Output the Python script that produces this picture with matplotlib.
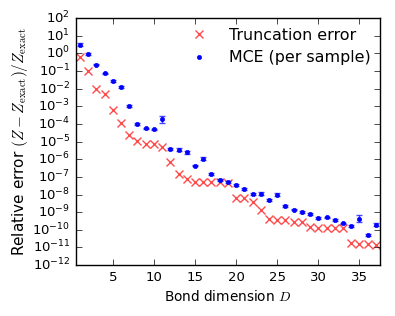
import matplotlib
matplotlib.use("Agg")
import matplotlib.pyplot as plt
import numpy as np
from matplotlib.ticker import LogLocator, NullLocator, FixedLocator

plt.style.use('classic')

# Data (log10 values)
bond_dim = list(range(1, 38))
trunc_log10 = [-0.23, -0.99, -2.0, -2.33, -3.22, -3.92, -4.65, -4.94, -5.12, -5.12,
               -5.33, -6.15, -6.83, -7.13, -7.28, -7.28, -7.28, -7.30, -7.33, -8.17,
               -8.17, -8.43, -8.85, -9.39, -9.45, -9.45, -9.55, -9.55, -9.84, -9.90,
               -9.90, -9.90, -9.90, -10.72, -10.83, -10.83, -10.85]
mce_log10 = [0.49, -0.06, -0.65, -1.14, -1.57, -1.89, -2.97, -4.0, -4.25, -4.31,
             -3.74, -5.41, -5.45, -5.61, -6.37, -5.97, -6.83, -7.17, -7.30, -7.45,
             -7.68, -7.97, -7.95, -8.32, -8.0, -8.64, -8.85, -9.0, -9.10, -9.33,
             -9.30, -9.45, -9.64, -9.76, -9.36, -10.3, -9.7]
# error-bar half-length in decades
mce_err_dec = [0.08, 0.05, 0.04, 0.04, 0.04, 0.05, 0.05, 0.04, 0.04, 0.05,
               0.2, 0.04, 0.06, 0.07, 0.04, 0.07, 0.05, 0.04, 0.05, 0.04,
               0.05, 0.04, 0.09, 0.04, 0.1, 0.04, 0.04, 0.04, 0.04, 0.05,
               0.05, 0.05, 0.05, 0.06, 0.18, 0.04, 0.1]

x = np.array(bond_dim)
trunc = 10.0 ** np.array(trunc_log10)
mce = 10.0 ** np.array(mce_log10)
err = np.array(mce_err_dec)
lower = mce - mce * 10.0 ** (-err)
upper = mce * 10.0 ** err - mce

fig = plt.figure(figsize=(3.95, 3.16), dpi=100, facecolor='white')
ax = fig.add_axes([0.192, 0.161, 0.77, 0.782])
ax.set_facecolor('white')

ax.plot(x, trunc, 'x', color='red', alpha=0.7, markersize=5.5, markeredgewidth=1.0,
        label='Truncation error')
ax.errorbar(x, mce, yerr=[lower, upper], fmt='none', ecolor='blue', elinewidth=1.0,
            capsize=2.5, capthick=1.0, alpha=0.7)
ax.plot(x, mce, '.', color='blue', markersize=6, label='MCE (per sample)')

ax.set_yscale('log')
ax.set_xlim(0.5, 37.5)
ax.set_ylim(1e-12, 1e2)
ax.yaxis.set_major_locator(LogLocator(base=10, numticks=30))
ax.yaxis.set_minor_locator(NullLocator())
ax.xaxis.set_major_locator(FixedLocator([5, 10, 15, 20, 25, 30, 35]))
ax.xaxis.set_minor_locator(NullLocator())
ax.tick_params(labelsize=9.5, direction='in', top=True, right=True, length=4)

ax.set_xlabel('Bond dimension $D$', fontsize=9.8, labelpad=4)
ax.set_ylabel(r'Relative error $(Z - Z_{\rm exact})/Z_{\rm exact}$', fontsize=11,
              labelpad=2)

leg = ax.legend(loc='upper right', frameon=False, numpoints=1, fontsize=11.4,
                handletextpad=0.9, borderaxespad=0.2)

fig.savefig('out.png', dpi=100, facecolor='white')
